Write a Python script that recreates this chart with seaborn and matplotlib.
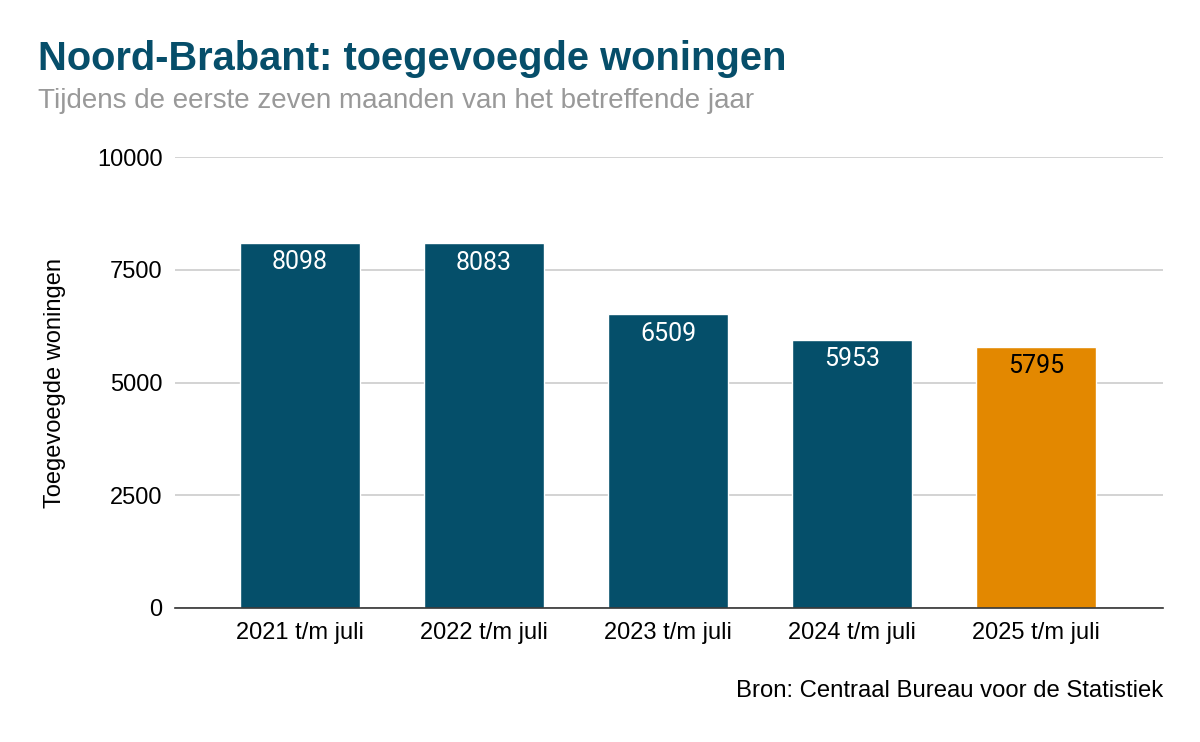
import numpy as np
import pandas as pd
import seaborn as sns
import matplotlib.pyplot as plt

# data
jaren = ["2021 t/m juli", "2022 t/m juli", "2023 t/m juli", "2024 t/m juli", "2025 t/m juli"]
woningen = [8098, 8083, 6509, 5953, 5795]
kleuren = ["#054f6a", "#054f6a", "#054f6a", "#054f6a", "#e38800"]
label_kleuren = ["white", "white", "white", "white", "black"]

df = pd.DataFrame({"Jaar": jaren, "Woningen": woningen})

sns.set_style("white")
plt.rcParams['font.family'] = ['Liberation Sans', 'DejaVu Sans']

fig = plt.figure(figsize=(12, 7.42), dpi=100)
ax = fig.add_axes([0.1458, 0.1806, 0.8233, 0.6078])

sns.barplot(data=df, x="Jaar", y="Woningen", hue="Jaar", palette=kleuren,
            legend=False, width=0.652, saturation=1, ax=ax)

# waarden in de balken
for i, (v, c) in enumerate(zip(woningen, label_kleuren)):
    ax.text(i, v - 170, str(v), ha="center", va="top", color=c,
            fontsize=18, family=["Roboto", "DejaVu Sans"])

ax.set_ylim(0, 10000)
ax.set_xlim(-0.68, 4.69)
ax.set_yticks([0, 2500, 5000, 7500, 10000])
ax.set_yticklabels(["0", "2500", "5000", "7500", "10000"])
ax.yaxis.grid(True, color="#cccccc", linewidth=1.2)
ax.set_axisbelow(True)
for s in ["top", "right", "left"]:
    ax.spines[s].set_visible(False)
ax.spines["bottom"].set_color("#333333")
ax.spines["bottom"].set_linewidth(1.2)
ax.tick_params(axis="both", length=0, labelsize=17, colors="black")
ax.tick_params(axis="y", pad=9)
ax.tick_params(axis="x", pad=10)
ax.set_xlabel("")
ax.set_ylabel("Toegevoegde woningen", fontsize=17, color="black", labelpad=22)

fig.text(0.032, 0.905, "Noord-Brabant: toegevoegde woningen", fontsize=28.7,
         fontweight="bold", color="#064e6a")
fig.text(0.032, 0.855, "Tijdens de eerste zeven maanden van het betreffende jaar",
         fontsize=20, color="#999999")
fig.text(0.969, 0.06, "Bron: Centraal Bureau voor de Statistiek", fontsize=17.2,
         ha="right", color="black")

fig.savefig("out.png", dpi=100)
